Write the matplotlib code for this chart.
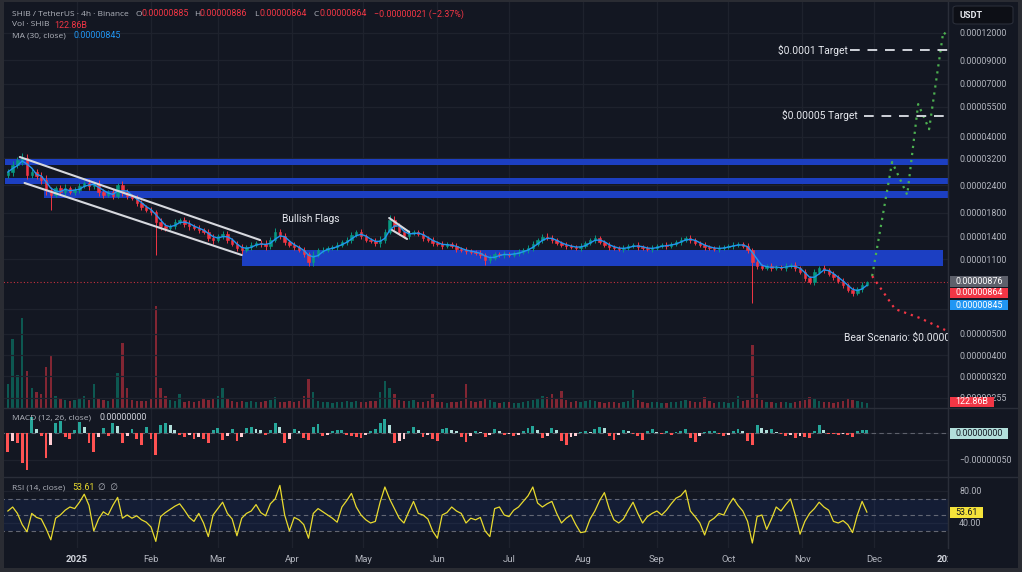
import numpy as np
import pandas as pd
import matplotlib
matplotlib.use('Agg')
import matplotlib.pyplot as plt
from matplotlib.patches import Rectangle, FancyBboxPatch
from matplotlib.ticker import NullLocator

plt.rcParams['font.family'] = ['Roboto', 'DejaVu Sans']

# ---------------- data ----------------
first_candle = '2024-12-03'          # 2-day candles
open0_e8 = 2680
closes_e8 = [
    2762, 2974, 3136, 3203, 2676, 2762, 2648, 2539, 2284, 2167,
    2333, 2236, 2333, 2236, 2284, 2383, 2460, 2383, 2434, 2236,
    2167, 2236, 2144, 2408, 2236, 2144, 2100, 1991, 1911, 1849,
    1810, 1629, 1561, 1528, 1561, 1629, 1664, 1595, 1561, 1528,
    1497, 1465, 1376, 1347, 1405, 1435, 1347, 1291, 1238, 1212,
    1251, 1278, 1305, 1291, 1265, 1347, 1465, 1405, 1319, 1278,
    1251, 1212, 1162, 1068, 1150, 1212, 1212, 1238, 1251, 1278,
    1319, 1347, 1420, 1465, 1405, 1347, 1333, 1305, 1347, 1465,
    1664, 1561, 1465, 1405, 1450, 1465, 1435, 1376, 1347, 1305,
    1291, 1265, 1291, 1265, 1225, 1212, 1199, 1187, 1174, 1150,
    1091, 1116, 1162, 1150, 1162, 1150, 1174, 1187, 1212, 1238,
    1291, 1347, 1391, 1376, 1347, 1305, 1278, 1265, 1251, 1238,
    1265, 1305, 1347, 1376, 1319, 1278, 1251, 1238, 1225, 1238,
    1265, 1278, 1251, 1238, 1225, 1238, 1265, 1278, 1265, 1291,
    1319, 1347, 1376, 1347, 1305, 1278, 1251, 1238, 1225, 1238,
    1251, 1265, 1278, 1291, 1265, 1212, 1068, 1024, 1003, 1024,
    1003, 1013, 1003, 1024, 1035, 1003, 962, 902, 864, 962,
    1003, 982, 941, 912, 873, 838, 795, 771, 803, 838, 864,
]
# typical high/low excursion beyond the candle body, in percent
range_pct = [
    3, 4, 3, 5, 4, 3, 3, 4, 5, 3,
    2, 3, 4, 2, 3, 3, 2, 4, 3, 4,
    3, 2, 3, 2, 4, 3, 2, 3, 3, 2,
    3, 2, 4, 3, 2, 3, 2, 3, 4, 2,
    3, 2, 3, 4, 2, 3, 3, 2, 3, 4,
    2, 3, 2, 3, 4, 3, 2, 3, 3, 2,
    3, 2, 3, 2, 4, 2, 3, 2, 2, 3,
    2, 3, 3, 2, 3, 2, 2, 3, 4, 3,
    2, 4, 3, 2, 3, 2, 2, 3, 2, 3,
    2, 3, 2, 2, 3, 2, 3, 2, 2, 3,
    2, 3, 2, 2, 3, 2, 2, 3, 2, 3,
    3, 2, 3, 2, 3, 2, 2, 3, 2, 2,
    3, 2, 2, 3, 2, 2, 3, 2, 2, 3,
    2, 2, 3, 2, 2, 3, 2, 2, 3, 2,
    2, 3, 2, 3, 2, 2, 3, 2, 2, 3,
    2, 2, 3, 2, 2, 3, 2, 3, 2, 2,
    3, 2, 2, 3, 2, 3, 2, 3, 2, 3,
    2, 3, 2, 3, 2, 3, 2, 3, 2, 3, 1,
]
wick_high_e8 = {3: 3306, 23: 2460, 56: 1528, 80: 1754, 113: 1450}
wick_low_e8 = {9: 1849, 31: 1150, 63: 1024, 100: 1035, 156: 693, 177: 754}

volume_b = [
    600, 1700, 800, 2200, 900, 500, 400, 350, 1000, 1300,
    300, 220, 200, 180, 200, 250, 300, 200, 600, 220,
    200, 180, 250, 850, 1600, 500, 200, 180, 160, 180,
    250, 2500, 500, 300, 200, 180, 350, 150, 160, 140,
    170, 250, 200, 230, 300, 500, 220, 160, 140, 170,
    150, 180, 150, 140, 160, 200, 280, 150, 140, 160,
    150, 170, 300, 700, 400, 180, 150, 140, 130, 150,
    140, 160, 150, 170, 140, 150, 160, 170, 400, 650,
    500, 350, 200, 160, 170, 200, 150, 140, 160, 350,
    150, 140, 130, 150, 140, 170, 600, 180, 140, 170,
    250, 200, 150, 130, 150, 140, 120, 130, 150, 160,
    200, 250, 300, 280, 350, 220, 420, 200, 150, 160,
    140, 170, 200, 160, 150, 130, 140, 150, 130, 140,
    160, 450, 200, 150, 130, 140, 150, 130, 120, 140,
    150, 160, 200, 170, 140, 150, 280, 160, 130, 140,
    150, 130, 140, 300, 160, 200, 1550, 350, 200, 150,
    140, 130, 150, 140, 130, 150, 160, 200, 280, 250,
    170, 150, 140, 130, 140, 160, 220, 200, 160, 140, 122.86,
]

macd_hist_e8 = [
    -35, -15, -18, -56, -68, 30, 7, -6, -46, -22,
    18, 22, -7, -11, 6, 20, 11, -18, -35, -7,
    9, -6, 18, 13, -18, -6, 7, -11, -22, 11,
    -11, -41, 15, 18, 15, 6, -4, -7, -4, -11,
    -7, -11, -18, 6, 9, -13, -6, 7, -15, -7,
    9, 11, 7, 6, -4, 6, 18, 11, -18, -11,
    7, 4, -9, -13, 11, 17, -6, -4, 4, 6,
    6, -4, -6, -7, -9, -4, 4, 7, 18, 26,
    15, -18, -15, -11, 4, 11, 6, -7, -4, -11,
    -15, 7, 9, 6, 4, -7, -17, -6, 4, 2,
    -7, -4, 7, 4, -4, -2, -6, -4, 4, 9,
    13, 6, -9, -6, 9, 6, -15, -22, -7, -6,
    2, 4, 2, 7, 11, 9, -6, -13, -4, 6,
    4, -2, -6, -13, 4, 7, 2, -2, 4, -4,
    2, 4, 7, -9, -17, -6, 2, 4, 4, -2,
    -6, -4, 4, 7, 4, -15, -22, 15, 9, 6,
    7, 2, -2, -6, -4, -9, -6, -7, -9, 4,
    15, 6, -2, -2, -4, -2, -4, -7, 4, 6, 6,
]

rsi_values = [
    55, 60, 52, 38, 29, 52, 47, 45, 33, 19,
    46, 50, 56, 60, 58, 66, 76, 62, 30, 45,
    54, 50, 62, 72, 46, 50, 46, 49, 44, 41,
    35, 17, 48, 53, 57, 61, 64, 56, 47, 42,
    52, 40, 23, 50, 58, 66, 52, 45, 24, 46,
    52, 55, 63, 53, 49, 64, 70, 87, 50, 30,
    47, 44, 38, 21, 52, 58, 54, 50, 46, 41,
    60, 68, 77, 60, 50, 44, 40, 42, 66, 85,
    70, 58, 46, 40, 54, 67, 52, 50, 45, 30,
    21, 50, 53, 60, 55, 52, 40, 46, 44, 47,
    30, 23, 58, 60, 50, 48, 56, 60, 67, 74,
    85, 65, 60, 64, 67, 52, 40, 46, 50, 38,
    28, 29, 45, 55, 68, 78, 58, 44, 40, 45,
    56, 66, 52, 40, 48, 52, 55, 50, 56, 64,
    71, 74, 81, 55, 48, 40, 25, 42, 46, 52,
    50, 62, 71, 62, 55, 42, 15, 48, 50, 32,
    45, 60, 55, 63, 70, 50, 26, 42, 52, 58,
    66, 60, 56, 42, 40, 43, 38, 28, 50, 67, 53.61,
]

month_dates = ['2025-01-01', '2025-02-01', '2025-03-01', '2025-04-01', '2025-05-01',
               '2025-06-01', '2025-07-01', '2025-08-01', '2025-09-01', '2025-10-01',
               '2025-11-01', '2025-12-01', '2026-01-01']
month_labels = ['2025', 'Feb', 'Mar', 'Apr', 'May', 'Jun', 'Jul', 'Aug', 'Sep', 'Oct',
                'Nov', 'Dec', '2026']

price_ticks = [0.00012, 0.00009, 0.00007, 0.000055, 0.00004, 0.000032, 0.000024,
               0.000018, 0.000014, 0.000011, 0.000005, 0.000004,
               0.0000032, 0.00000255]
hidden_grid_prices = [0.0000065]

# support / resistance zones: (low, high, start, end)
zones = [
    (0.0000297, 0.0000317, '2024-12-02', '2026-01-01'),
    (0.0000243, 0.0000259, '2024-12-02', '2026-01-01'),
    (0.0000210, 0.0000226, '2024-12-18', '2026-01-01'),
    (0.0000102, 0.0000121, '2025-03-11', '2025-12-30'),
]
channel_upper = [('2024-12-08', 0.00003237), ('2025-03-18 17:00', 0.00001347)]
channel_lower = [('2024-12-10', 0.00002460), ('2025-03-11', 0.00001150)]
flag_upper = [('2025-05-11 19:00', 0.00001700), ('2025-05-20 05:00', 0.00001466)]
flag_lower = [('2025-05-13', 0.00001497), ('2025-05-19 07:00', 0.00001362)]

bull_dates = ['2025-11-30 05:00', '2025-12-08 14:00', '2025-12-14 22:00', '2025-12-19 12:00',
              '2025-12-24 02:00', '2025-12-30', '2026-01-01']
bull_prices = [0.00000921, 0.0000307, 0.0000217, 0.0000566, 0.0000434, 0.000121, 0.000116]
bear_dates = ['2025-11-30 05:00', '2025-12-09 19:00', '2025-12-20 07:00', '2025-12-30 19:00']
bear_prices = [0.00000921, 0.00000650, 0.00000591, 0.00000521]

targets = [(0.0001, '$0.0001 Target', '2025-11-21', '2025-11-20 02:00'),
           (0.00005, '$0.00005 Target', '2025-11-27', '2025-11-24 07:00')]

# ---------------- style ----------------
W, H = 1022, 572
BG = '#131722'
GRID = '#1e222d'
SEP = '#2a2e39'
TXT = '#b2b5be'
UP = '#089981'
DN = '#f23645'
BAND = '#1c3fc2'
PLOT_R = 948
FS = 6.4
LABEL_FS = 6.0
LABEL_FONT = ['Open Sans', 'DejaVu Sans']

ref = pd.Timestamp('2025-01-01')


def day(s):
    return (pd.Timestamp(s) - ref) / pd.Timedelta(days=1)


cx = ((pd.date_range(first_candle, periods=len(closes_e8), freq='2D') - ref)
      / pd.Timedelta(days=1)).to_numpy()
close = np.array(closes_e8) * 1e-8
opens = np.concatenate([[open0_e8 * 1e-8], close[:-1]])
rp = np.array(range_pct) / 100.0
high = np.maximum(opens, close) * (1 + rp)
low = np.minimum(opens, close) * (1 - rp)
for k, v in wick_high_e8.items():
    high[k] = max(high[k], v * 1e-8)
for k, v in wick_low_e8.items():
    low[k] = min(low[k], v * 1e-8)
up = close >= opens
ccol = np.where(up, UP, DN)
ma = pd.Series(close).rolling(3, min_periods=1).mean().to_numpy()

XL = (day('2024-11-30') - 0.3, day('2026-01-01'))

fig = plt.figure(figsize=(W / 100, H / 100), dpi=100, facecolor=BG)


def axrect(top, bottom):
    return [0, 1 - bottom / H, PLOT_R / W, (bottom - top) / H]


def fx(x):
    return x / W


def fy(y):
    return 1 - y / H


ax_vol = fig.add_axes(axrect(0, 408))
ax = fig.add_axes(axrect(0, 408), sharex=ax_vol)
ax_macd = fig.add_axes(axrect(408, 477), sharex=ax_vol)
ax_rsi = fig.add_axes(axrect(477, 548), sharex=ax_vol)
ax_time = fig.add_axes(axrect(548, 568))

for a in (ax_vol, ax, ax_macd, ax_rsi, ax_time):
    a.set_facecolor(BG)
    for s in a.spines.values():
        s.set_visible(False)
    a.tick_params(axis='x', bottom=False, labelbottom=False)
ax.patch.set_visible(False)
ax.set_zorder(2)
ax_vol.set_xlim(*XL)
ax_time.set_xlim(*XL)

mdays = [day(d) for d in month_dates]
for a in (ax_vol, ax_macd, ax_rsi):
    for d in mdays:
        a.axvline(d, color=GRID, lw=0.9, zorder=0)

# ---- volume ----
ax_vol.bar(cx, volume_b, width=1.0, color=np.where(up, UP, DN), alpha=0.5, lw=0, zorder=1)
ax_vol.set_ylim(0, 10000)
ax_vol.set_yticks([])

# ---- price ----
ax.set_yscale('log')
ax.set_ylim(2.286e-6, 1.699e-4)
ax.yaxis.set_minor_locator(NullLocator())
ax.set_yticks(price_ticks, labels=[f'{p:.8f}' for p in price_ticks])
ax.yaxis.tick_right()
ax.tick_params(axis='y', length=0, pad=8, labelcolor=TXT, labelsize=FS)
ax.grid(axis='y', color=GRID, lw=0.9)
ax.set_axisbelow(True)
for p in hidden_grid_prices:
    ax.axhline(p, color=GRID, lw=0.9, zorder=0.5)

for lo_, hi_, s, e in zones:
    ax.fill_between([day(s), day(e)], [lo_, lo_], [hi_, hi_], color=BAND, lw=0, zorder=1)

ax.vlines(cx, low, high, colors=ccol, lw=0.7, zorder=3)
ax.bar(cx, np.abs(close - opens), bottom=np.minimum(opens, close), width=1.0,
       color=ccol, edgecolor=ccol, lw=0.4, zorder=3)
ax.plot(cx, ma, color='#2196f3', lw=1.0, zorder=4)

for seg in (channel_upper, channel_lower, flag_upper, flag_lower):
    ax.plot([day(seg[0][0]), day(seg[1][0])], [seg[0][1], seg[1][1]],
            color='#d6d8de', lw=1.5, zorder=5, solid_capstyle='round')

ax.axhline(close[-1], color=DN, lw=0.8, ls=(0, (1, 2)), alpha=0.8, zorder=2)

ax.plot([day(d) for d in bull_dates], bull_prices, color='#4caf50', lw=1.6,
        ls=(0, (1, 2.2)), zorder=6)
ax.plot([day(d) for d in bear_dates], bear_prices, color='#f23645', lw=1.6,
        ls=(0, (1, 2.2)), zorder=6)

for price, label, line_start, text_end in targets:
    ax.plot([day(line_start), XL[1]], [price, price], color='#d0d3da', lw=1.4,
            ls=(0, (5, 4)), zorder=6)
    ax.text(day(text_end), price, label, color='#e6e8ee', fontsize=7.4,
            ha='right', va='center', zorder=7)

ax.text(day('2025-04-09'), 0.0000168, 'Bullish Flags', color='#e6e8ee', fontsize=7.4,
        ha='center', va='center', zorder=7)
ax.text(day('2025-11-18 12:00'), 0.00000479, 'Bear Scenario: $0.000005', color='#e6e8ee',
        fontsize=7.4, ha='left', va='center', zorder=7, clip_on=True)

# ---- MACD ----
mh = np.array(macd_hist_e8, dtype=float)
prev = np.concatenate([[0], mh[:-1]])
mcol = np.where(mh >= 0, np.where(mh >= prev, '#26a69a', '#b2dfdb'),
                np.where(mh <= prev, '#ff5252', '#ffcdd2'))
ax_macd.bar(cx, mh, width=1.2, color=mcol, lw=0, zorder=2)
ax_macd.set_ylim(-81.5, 46.3)
ax_macd.axhline(0, color='#787b86', lw=0.8, ls=(0, (4, 3)), alpha=0.7, zorder=1)
ax_macd.set_yticks([0, -50], labels=['', '\u22120.00000050'])
ax_macd.yaxis.tick_right()
ax_macd.tick_params(axis='y', length=0, pad=8, labelcolor=TXT, labelsize=FS)
ax_macd.grid(axis='y', color=GRID, lw=0.9)
ax_macd.set_axisbelow(True)

# ---- RSI ----
ax_rsi.set_ylim(8.75, 97.5)
ax_rsi.axhspan(30, 70, color='#2962ff', alpha=0.09, lw=0, zorder=1)
for lvl in (70, 50, 30):
    ax_rsi.axhline(lvl, color='#787b86', lw=0.8, ls=(0, (4, 3)), alpha=0.8, zorder=2)
ax_rsi.plot(cx, rsi_values, color='#e8da2e', lw=0.9, zorder=3)
ax_rsi.set_yticks([80, 40], labels=['80.00', '40.00'])
ax_rsi.yaxis.tick_right()
ax_rsi.tick_params(axis='y', length=0, pad=8, labelcolor=TXT, labelsize=FS)
ax_rsi.grid(axis='y', color=GRID, lw=0.9)
ax_rsi.set_axisbelow(True)

# ---- time axis ----
ax_time.set_ylim(0, 1)
ax_time.set_yticks([])
for d, lab in zip(mdays, month_labels):
    bold = lab.isdigit()
    ax_time.text(d, 0.4, lab, color='#d1d4dc' if bold else TXT, fontsize=6.8,
                 fontweight='bold' if bold else 'normal', ha='center', va='center',
                 clip_on=True)

# ---- separators ----
for yy in (408, 477):
    fig.add_artist(plt.Line2D([0, 1], [fy(yy), fy(yy)], color=SEP, lw=1.0,
                              transform=fig.transFigure, zorder=4))
fig.add_artist(plt.Line2D([fx(PLOT_R), fx(PLOT_R)], [fy(548), 1], color=SEP, lw=1.0,
                          transform=fig.transFigure, zorder=4))


# ---- axis value boxes ----
def label_box(x0, x1, y0, y1, text, fc, tc):
    fig.add_artist(Rectangle((fx(x0), fy(y1)), (x1 - x0) / W, (y1 - y0) / H,
                             transform=fig.transFigure, fc=fc, ec='none', zorder=8))
    fig.text(fx(x0 + 5), fy((y0 + y1) / 2), text, color=tc, fontsize=FS,
             ha='left', va='center', zorder=9)


label_box(950, 1008, 276, 287, '0.00000876', '#5d606b', '#ffffff')
label_box(950, 1008, 288, 298, '0.00000864', DN, '#ffffff')
label_box(950, 1008, 300, 310, '0.00000845', '#2196f3', '#ffffff')
label_box(950, 994, 397, 407, '122.86B', DN, '#ffffff')
label_box(950, 1008, 428, 439, '0.00000000', '#b2dfdb', '#131722')
label_box(950, 983, 507, 518, '53.61', '#f5e33a', '#131722')

fig.add_artist(FancyBboxPatch((fx(953), fy(24)), 60 / W, 18 / H,
                              boxstyle='round,pad=0,rounding_size=0.004',
                              transform=fig.transFigure, fc='#0d0f16', ec='#2a2e39',
                              lw=0.8, zorder=8))
fig.text(fx(959), fy(15), 'USDT', color='#e6e8ee', fontsize=6.6, fontweight='bold',
         ha='left', va='center', zorder=9)


# ---- legends (pieces placed at positions) ----
def put(x, y, s, c, is_label):
    kw = dict(family=LABEL_FONT, fontsize=LABEL_FS) if is_label else dict(fontsize=FS)
    fig.text(fx(x), fy(y), s, color=c, ha='left', va='center', zorder=9, **kw)


legend_rows = [
    (14, [(12, 'SHIB / TetherUS \u00b7 4h \u00b7 Binance', TXT, True),
          (135, 'O', TXT, True), (141, '0.00000885', DN, False),
          (194, 'H', TXT, True), (200, '0.00000886', DN, False),
          (254, 'L', TXT, True), (259, '0.00000864', DN, False),
          (313, 'C', TXT, True), (319, '0.00000864', DN, False),
          (374, '\u22120.00000021 (\u22122.37%)', DN, False)]),
    (25, [(12, 'Vol \u00b7 SHIB', TXT, True), (54, '122.86B', DN, False)]),
    (36, [(12, 'MA (30, close)', TXT, True), (73, '0.00000845', '#2196f3', False)]),
    (418, [(12, 'MACD (12, 26, close)', TXT, True), (99, '0.00000000', '#d1d4dc', False)]),
    (488, [(12, 'RSI (14, close)', TXT, True), (72, '53.61', '#e8da2e', False),
           (98, '\u2205  \u2205', TXT, False)]),
]
for yy, pieces in legend_rows:
    for xx, s, c, is_label in pieces:
        put(xx, yy, s, c, is_label)

# ---- screenshot frame ----
FRAME = '#2a2c33'
for (x0, y0, x1, y1) in [(0, 0, 4, 572), (1018, 0, 1022, 572), (0, 568, 1022, 572), (0, 0, 1022, 2)]:
    fig.add_artist(Rectangle((fx(x0), fy(y1)), (x1 - x0) / W, (y1 - y0) / H,
                             transform=fig.transFigure, fc=FRAME, ec='none', zorder=20))

fig.savefig('out.png', dpi=100, facecolor=BG)
